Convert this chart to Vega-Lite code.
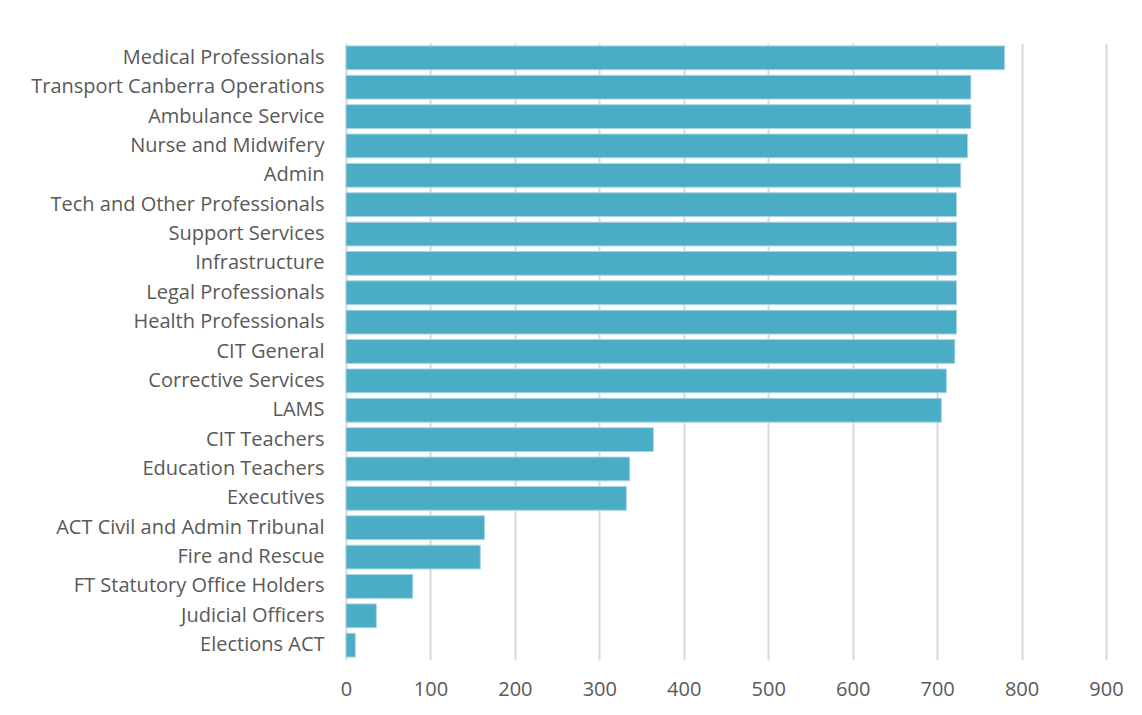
{
  "$schema": "https://vega.github.io/schema/vega-lite/v6.json",
  "autosize": "none",
  "width": 760,
  "height": 617,
  "padding": {"left": 346, "top": 43, "right": 36, "bottom": 55},
  "background": "white",
  "data": {"values": [
    {"category": "Medical Professionals", "value": 780},
    {"category": "Transport Canberra Operations", "value": 740},
    {"category": "Ambulance Service", "value": 740},
    {"category": "Nurse and Midwifery", "value": 736},
    {"category": "Admin ", "value": 728},
    {"category": "Tech and Other Professionals", "value": 723},
    {"category": "Support Services", "value": 723},
    {"category": "Infrastructure", "value": 723},
    {"category": "Legal Professionals", "value": 723},
    {"category": "Health Professionals", "value": 723},
    {"category": "CIT General", "value": 721},
    {"category": "Corrective Services", "value": 711},
    {"category": "LAMS", "value": 705},
    {"category": "CIT Teachers", "value": 364},
    {"category": "Education Teachers", "value": 336},
    {"category": "Executives", "value": 332},
    {"category": "ACT Civil and Admin Tribunal", "value": 164},
    {"category": "Fire and Rescue", "value": 159},
    {"category": "FT Statutory Office Holders", "value": 79},
    {"category": "Judicial Officers", "value": 36},
    {"category": "Elections ACT", "value": 11}
  ]},
  "mark": {"type": "bar", "color": "#4BACC6", "stroke": "#a9d5e2", "strokeWidth": 1},
  "encoding": {
    "y": {
      "field": "category", "type": "nominal", "sort": null,
      "scale": {"paddingInner": 0.19, "paddingOuter": 0.1},
      "axis": {"title": null, "ticks": false, "domain": false, "grid": false,
               "labelFontSize": 20, "labelFont": "Open Sans", "labelColor": "#595959",
               "labelPadding": 22, "labelLimit": 400}
    },
    "x": {
      "field": "value", "type": "quantitative",
      "scale": {"domain": [0, 900], "nice": false},
      "axis": {"title": null, "values": [0,100,200,300,400,500,600,700,800,900],
               "ticks": false, "domain": false, "grid": true, "labelFlush": false,
               "gridColor": "#d9d9d9", "gridWidth": 2,
               "labelFontSize": 20, "labelFont": "Open Sans", "labelColor": "#595959",
               "labelPadding": 19}
    }
  },
  "config": {"view": {"stroke": null}}
}
